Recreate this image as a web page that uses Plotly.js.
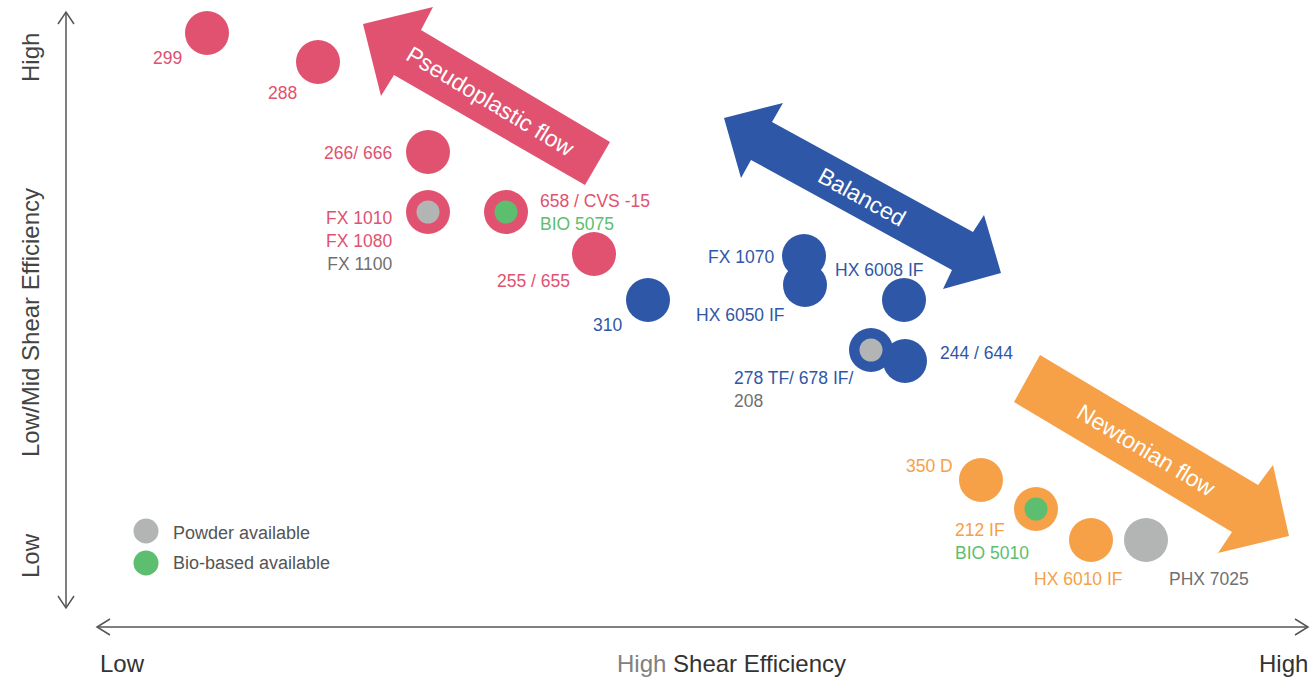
<!DOCTYPE html>
<html><head><meta charset="utf-8">
<script src="https://cdn.plot.ly/plotly-3.0.1.min.js"></script>
<style>html,body{margin:0;padding:0;background:#fff;}#chart{width:1312px;height:681px;}</style>
</head><body><div id="chart"></div>
<script>
// ---- data: products positioned on the two shear-efficiency scales ----
const products   = ["299","288","266/ 666","FX 1010","658 / CVS -15","255 / 655","310","FX 1070","HX 6050 IF","HX 6008 IF","278 TF/ 678 IF/","244 / 644","350 D","212 IF","HX 6010 IF","PHX 7025"];
const highShear  = [207, 318, 428, 428, 506, 594, 648, 804, 805, 904, 871, 905, 981, 1036, 1091, 1146];
const lowMidShear= [648, 619, 529, 469, 469, 427, 381, 425, 396, 381, 331, 320, 201, 172, 141, 141];
const flowType   = ["P","P","P","P","P","P","B","B","B","B","B","B","N","N","N","G"];
const availability = ["","","","powder","bio","","","","","","powder","","","bio","",""];
// label lines (text) and which palette entry colours each line
const labelLines = [["299"],["288"],["266/ 666"],["FX 1010","FX 1080","FX 1100"],["658 / CVS -15","BIO 5075"],["255 / 655"],["310"],["FX 1070"],["HX 6050 IF"],["HX 6008 IF"],["278 TF/ 678 IF/","208"],["244 / 644"],["350 D"],["212 IF","BIO 5010"],["HX 6010 IF"],["PHX 7025"]];
const labelKinds = [["P"],["P"],["P"],["P","P","T"],["P","bio"],["P"],["B"],["B"],["B"],["B"],["B","T"],["B"],["N"],["N","bio"],["N"],["T"]];
const legendNames = ["Powder available","Bio-based available"];
const flowNames = ["Pseudoplastic flow","Balanced","Newtonian flow"];
const axisLow = "Low", axisHigh = "High";

// ---- styles ----
const palette = {P:"#E0526F", B:"#2F57A7", N:"#F6A047", G:"#B3B5B5", T:"#707070", bio:"#5CBE6E", powder:"#B3B5B5"};
const FONT = "Liberation Sans, Arial, Helvetica, sans-serif";
// label offsets in px from point: [dx, dy(down), anchor]
const labelPlace = [[-23,25,"right"],[-19,31,"right"],[-34,1,"right"],[-34,28.5,"right"],[32,0,"left"],[-22,27,"right"],[-24,25,"right"],[-28,1,"right"],[-18,30,"right"],[22,-30,"right"],[-139,39,"left"],[33,-8,"left"],[-26,-14,"right"],[-83,32.5,"left"],[-59,39,"left"],[21,39,"left"]];
// big flow arrows (polygon vertices, same scale as the data)
const arrowPseudo = [[363,657],[433,674],[421,651],[610,539],[585,496],[394,606],[381,585]];
const arrowBalanced = [[724,563],[783,578],[772,559],[973,449],[984,466],[1001,408],[943,392],[952,411],[751,521],[741,503]];
const arrowNewton = [[1040,326],[1258,196],[1273,216],[1289,145],[1218,128],[1232,149],[1014,279]];
const arrowText = [[490,580,31,"P"],[862,484,29,"B"],[1146,231,31,"N"]];

function poly(pts){ return "M" + pts.map(p => p[0]+","+p[1]).join(" L") + " Z"; }

const traces = [];
traces.push({
  type:"scatter", mode:"markers", x:highShear, y:lowMidShear, hoverinfo:"skip",
  marker:{size:44, color:flowType.map(f=>palette[f]), line:{width:0}}
});
const ix = [], iy = [], ic = [];
availability.forEach((a,i)=>{ if(a){ ix.push(highShear[i]); iy.push(lowMidShear[i]); ic.push(palette[a]); } });
traces.push({type:"scatter", mode:"markers", x:ix, y:iy, hoverinfo:"skip", marker:{size:23, color:ic, line:{width:0}}});
// legend dots
traces.push({type:"scatter", mode:"markers", x:[146,146], y:[150,118], hoverinfo:"skip",
  marker:{size:25, color:[palette.powder, palette.bio], line:{width:0}}});

const annotations = [];
products.forEach((p,i)=>{
  const [dx,dy,anc] = labelPlace[i];
  const txt = labelLines[i].map((t,k)=>'<span style="color:'+palette[labelKinds[i][k]]+'">'+t+'</span>').join("<br>");
  annotations.push({x:highShear[i], y:lowMidShear[i], xref:"x", yref:"y", text:txt, showarrow:false,
    xshift:dx, yshift:-dy, xanchor:anc, yanchor:"middle", align:anc,
    font:{family:FONT, size:17.5, color:palette[labelKinds[i][0]]}});
});
legendNames.forEach((t,k)=>{
  annotations.push({x:171, y:[148,118][k], xref:"x", yref:"y", text:t, showarrow:false, xanchor:"left", yanchor:"middle",
    font:{family:FONT, size:18, color:"#555"}});
});
arrowText.forEach((a,k)=>{
  annotations.push({x:a[0], y:a[1], xref:"x", yref:"y", text:flowNames[k], showarrow:false, textangle:a[2],
    xanchor:"center", yanchor:"middle", font:{family:FONT, size:23, color:"#ffffff"}});
});
// axis texts
annotations.push({x:122, y:18, xref:"x", yref:"y", text:axisLow, showarrow:false, font:{family:FONT,size:24,color:"#333"}});
annotations.push({x:1283, y:18, xref:"x", yref:"y", text:axisHigh, showarrow:false, font:{family:FONT,size:24,color:"#333"}});
annotations.push({x:731, y:18, xref:"x", yref:"y", text:'<span style="color:#808080">High</span> Shear Efficiency', showarrow:false, font:{family:FONT,size:24,color:"#333"}});
annotations.push({x:30, y:623, xref:"x", yref:"y", text:axisHigh, textangle:-90, showarrow:false, font:{family:FONT,size:24,color:"#444"}});
annotations.push({x:30, y:358, xref:"x", yref:"y", text:"Low/Mid Shear Efficiency", textangle:-90, showarrow:false, font:{family:FONT,size:24,color:"#444"}});
annotations.push({x:30, y:125, xref:"x", yref:"y", text:axisLow, textangle:-90, showarrow:false, font:{family:FONT,size:24,color:"#444"}});

const axLine = {color:"#555", width:1.5};
const shapes = [
  {type:"path", xref:"x", yref:"y", path:poly(arrowPseudo), fillcolor:palette.P, line:{width:0}, layer:"below"},
  {type:"path", xref:"x", yref:"y", path:poly(arrowBalanced), fillcolor:palette.B, line:{width:0}, layer:"below"},
  {type:"path", xref:"x", yref:"y", path:poly(arrowNewton), fillcolor:palette.N, line:{width:0}, layer:"below"},
  // vertical axis with arrowheads
  {type:"path", xref:"x", yref:"y", path:"M66,669 L66,73", line:axLine},
  {type:"path", xref:"x", yref:"y", path:"M58,657 L66,669 L74,657", line:axLine},
  {type:"path", xref:"x", yref:"y", path:"M58,85 L66,73 L74,85", line:axLine},
  // horizontal axis with arrowheads
  {type:"path", xref:"x", yref:"y", path:"M97,54 L1308,54", line:axLine},
  {type:"path", xref:"x", yref:"y", path:"M110,62 L97,54 L110,46", line:axLine},
  {type:"path", xref:"x", yref:"y", path:"M1295,62 L1308,54 L1295,46", line:axLine}
];

const layout = {
  width:1312, height:681, margin:{l:0,r:0,t:0,b:0},
  paper_bgcolor:"#fff", plot_bgcolor:"#fff", showlegend:false,
  xaxis:{range:[0,1312], visible:false, fixedrange:true},
  yaxis:{range:[0,681], visible:false, fixedrange:true},
  shapes:shapes, annotations:annotations, hovermode:false
};
Plotly.newPlot("chart", traces, layout, {displayModeBar:false, staticPlot:true});
</script></body></html>
